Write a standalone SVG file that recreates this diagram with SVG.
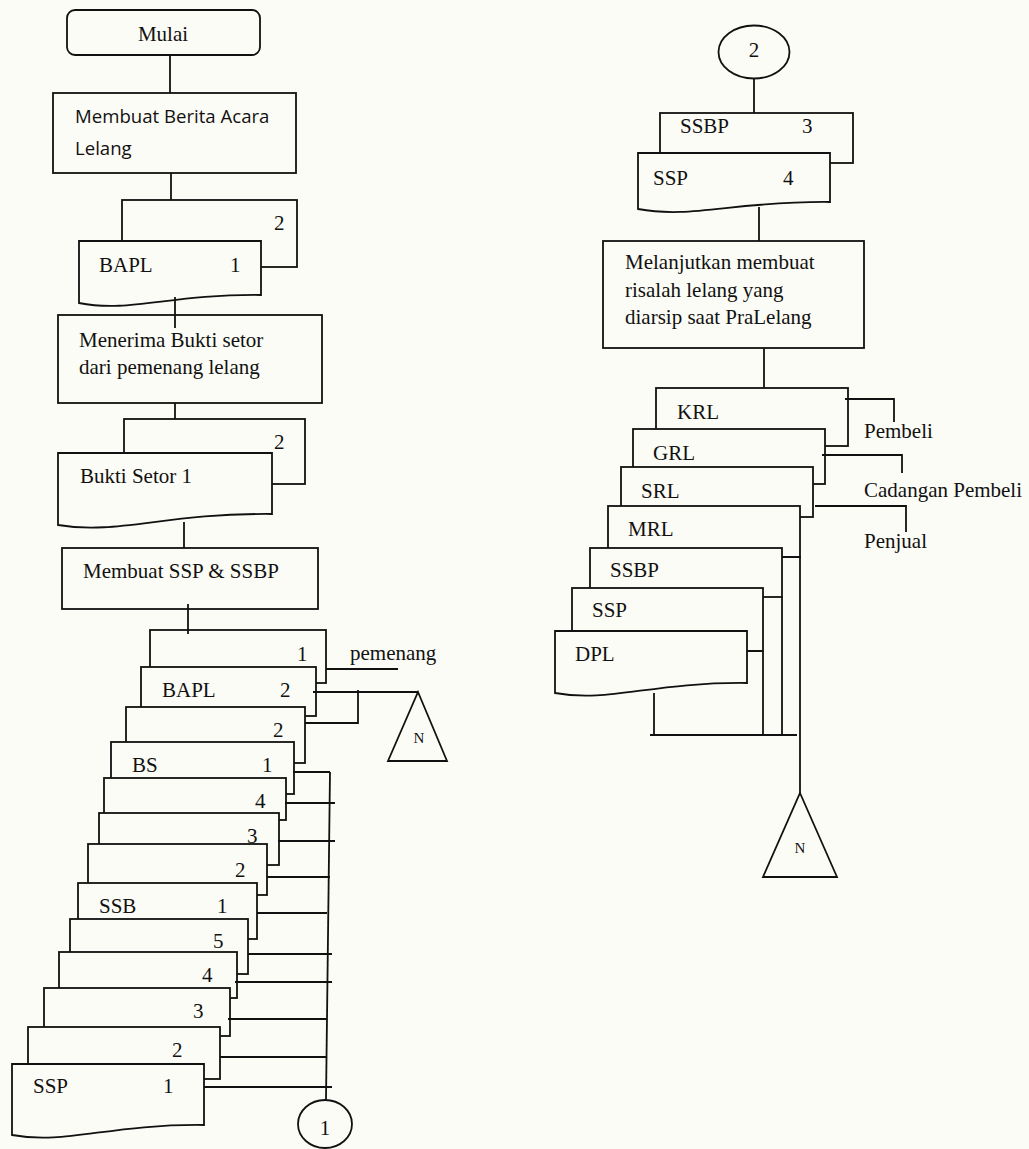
<svg xmlns="http://www.w3.org/2000/svg" width="1029" height="1149" viewBox="0 0 1029 1149">
  <style>
    .bg { fill: #fcfcf6; }
    .shape { fill: #fcfcf6; stroke: #111; stroke-width: 1.8; }
    .ln { fill: none; stroke: #111; stroke-width: 1.8; }
    .t { font-family: "Liberation Serif", "Times New Roman", serif; font-size: 21px; fill: #111; }
    .s { font-family: "Open Sans", "Liberation Sans", sans-serif; font-size: 18.6px; fill: #111; }
    .n { font-family: "Liberation Serif", "Times New Roman", serif; font-size: 15px; fill: #111; text-anchor: middle; }
    .c { text-anchor: middle; }
  </style>
  <rect class="bg" x="0" y="0" width="1029" height="1149"/>

  <!-- left column: start and processing steps -->
  <g id="mulai">
    <rect class="shape" x="67" y="10" width="193" height="45" rx="8"/>
    <text class="t c" x="163" y="41" font-size="20">Mulai</text>
  </g>
  <g id="proses-berita-acara">
    <rect class="shape" x="53" y="93" width="243" height="80"/>
    <text class="s" x="75" y="123">Membuat Berita Acara</text>
    <text class="s" x="75" y="155">Lelang</text>
  </g>
  <g id="dok-bapl">
    <rect class="shape" x="122" y="200" width="175" height="67"/>
    <text class="t" x="274" y="230">2</text>
    <path class="shape" d="M79,241 H261 V295 C170,294 130,313 79,303 Z"/>
    <text class="t" x="99" y="272">BAPL</text>
    <text class="t" x="230" y="272">1</text>
  </g>
  <g id="proses-menerima">
    <rect class="shape" x="58" y="315" width="264" height="88"/>
    <text class="t" x="79" y="347">Menerima Bukti setor</text>
    <text class="t" x="79" y="374">dari pemenang lelang</text>
  </g>
  <g id="dok-bukti-setor">
    <rect class="shape" x="124" y="419" width="181" height="65"/>
    <text class="t" x="274" y="449">2</text>
    <path class="shape" d="M58,453 H272 V514 C165,513 118,535 58,525 Z"/>
    <text class="t" x="80" y="483">Bukti Setor 1</text>
  </g>
  <g id="proses-ssp-ssbp">
    <rect class="shape" x="62" y="548" width="256" height="61"/>
    <text class="t" x="83" y="578">Membuat SSP &amp; SSBP</text>
  </g>

  <!-- left document stack -->
  <g id="stack-kiri">
    <rect class="shape" x="150" y="630" width="176" height="53"/>
    <text class="t" x="297" y="661">1</text>
    <rect class="shape" x="141" y="667" width="175" height="49"/>
    <text class="t" x="162" y="697">BAPL</text>
    <text class="t" x="280" y="697">2</text>
    <rect class="shape" x="126" y="707" width="179" height="56"/>
    <text class="t" x="273" y="737">2</text>
    <rect class="shape" x="111" y="742" width="183" height="52"/>
    <text class="t" x="132" y="772">BS</text>
    <text class="t" x="262" y="772">1</text>
    <rect class="shape" x="104" y="778" width="182" height="42"/>
    <text class="t" x="255" y="808">4</text>
    <rect class="shape" x="99" y="813" width="180" height="52"/>
    <text class="t" x="247" y="843">3</text>
    <rect class="shape" x="88" y="844" width="179" height="51"/>
    <text class="t" x="235" y="877">2</text>
    <rect class="shape" x="78" y="883" width="179" height="56"/>
    <text class="t" x="99" y="913">SSB</text>
    <text class="t" x="217" y="913">1</text>
    <rect class="shape" x="70" y="919" width="178" height="55"/>
    <text class="t" x="213" y="948">5</text>
    <rect class="shape" x="59" y="952" width="178" height="46"/>
    <text class="t" x="202" y="982">4</text>
    <rect class="shape" x="44" y="988" width="186" height="48"/>
    <text class="t" x="193" y="1018">3</text>
    <rect class="shape" x="28" y="1027" width="192" height="52"/>
    <text class="t" x="172" y="1057">2</text>
    <path class="shape" d="M12,1064 H204 V1125 C108,1124 66,1145 12,1135 Z"/>
    <text class="t" x="33" y="1093">SSP</text>
    <text class="t" x="163" y="1093">1</text>
  </g>
  <g id="label-pemenang">
    <text class="t" x="350" y="660">pemenang</text>
  </g>
  <g id="arsip-n-kiri">
    <path class="shape" d="M418,692 L447,761 L388,761 Z"/>
    <text class="n" x="419" y="743">N</text>
  </g>
  <g id="konektor-1">
    <ellipse class="shape" cx="325" cy="1124" rx="27" ry="24"/>
    <text class="t c" x="325" y="1135">1</text>
  </g>

  <!-- right column -->
  <g id="konektor-2">
    <ellipse class="shape" cx="754" cy="52" rx="35.5" ry="26.5"/>
    <text class="t c" x="754" y="57">2</text>
  </g>
  <g id="dok-ssbp-ssp">
    <rect class="shape" x="660" y="113" width="193" height="50"/>
    <text class="t" x="680" y="133">SSBP</text>
    <text class="t" x="802" y="133">3</text>
    <path class="shape" d="M638,153 H830 V202 C734,201 692,219 638,209 Z"/>
    <text class="t" x="653" y="185">SSP</text>
    <text class="t" x="783" y="185">4</text>
  </g>
  <g id="proses-risalah">
    <rect class="shape" x="603" y="241" width="261" height="107"/>
    <text class="t" x="625" y="269">Melanjutkan membuat</text>
    <text class="t" x="625" y="297">risalah lelang yang</text>
    <text class="t" x="625" y="324">diarsip saat PraLelang</text>
  </g>
  <g id="stack-kanan">
    <rect class="shape" x="656" y="388" width="192" height="58"/>
    <text class="t" x="677" y="419">KRL</text>
    <rect class="shape" x="633" y="429" width="192" height="55"/>
    <text class="t" x="653" y="460">GRL</text>
    <rect class="shape" x="621" y="467" width="192" height="50"/>
    <text class="t" x="641" y="498">SRL</text>
    <rect class="shape" x="608" y="506" width="192" height="51"/>
    <text class="t" x="628" y="536">MRL</text>
    <rect class="shape" x="590" y="548" width="192" height="49"/>
    <text class="t" x="610" y="577">SSBP</text>
    <rect class="shape" x="572" y="588" width="191" height="63"/>
    <text class="t" x="592" y="617">SSP</text>
    <path class="shape" d="M555,631 H747 V683 C651,682 609,703 555,693 Z"/>
    <text class="t" x="575" y="661">DPL</text>
  </g>
  <g id="label-penerima">
    <text class="t" x="864" y="438">Pembeli</text>
    <text class="t" x="864" y="497">Cadangan Pembeli</text>
    <text class="t" x="864" y="548">Penjual</text>
  </g>
  <g id="arsip-n-kanan">
    <path class="shape" d="M800,793 L837,877 L763,877 Z"/>
    <text class="n" x="800" y="853">N</text>
  </g>

  <!-- connecting lines -->
  <g id="connectors">
    <line class="ln" x1="170" y1="55" x2="170" y2="93"/>
    <line class="ln" x1="171" y1="173" x2="171" y2="200"/>
    <line class="ln" x1="175" y1="297" x2="175" y2="328"/>
    <line class="ln" x1="175" y1="403" x2="175" y2="419"/>
    <line class="ln" x1="184" y1="522" x2="184" y2="548"/>
    <line class="ln" x1="188" y1="604" x2="188" y2="634"/>

    <line class="ln" x1="326" y1="669" x2="398" y2="669"/>
    <line class="ln" x1="313" y1="692" x2="418" y2="692"/>
    <polyline class="ln" points="305,723 358,723 358,690"/>
    <line class="ln" x1="293" y1="772" x2="330" y2="772"/>
    <line class="ln" x1="330" y1="772" x2="326" y2="1100"/>
    <line class="ln" x1="285" y1="803" x2="335" y2="803"/>
    <line class="ln" x1="278" y1="841" x2="335" y2="841"/>
    <line class="ln" x1="267" y1="877" x2="330" y2="877"/>
    <line class="ln" x1="257" y1="913" x2="327" y2="913"/>
    <line class="ln" x1="248" y1="954" x2="332" y2="954"/>
    <line class="ln" x1="235" y1="982" x2="332" y2="982"/>
    <line class="ln" x1="228" y1="1019" x2="327" y2="1019"/>
    <line class="ln" x1="220" y1="1057" x2="327" y2="1057"/>
    <line class="ln" x1="204" y1="1087" x2="332" y2="1087"/>

    <line class="ln" x1="754" y1="78" x2="754" y2="113"/>
    <line class="ln" x1="759" y1="207" x2="759" y2="241"/>
    <line class="ln" x1="764" y1="348" x2="764" y2="388"/>
    <polyline class="ln" points="845,399 894,399 894,422"/>
    <polyline class="ln" points="822,455 902,455 902,473"/>
    <polyline class="ln" points="815,506 906,506 906,532"/>
    <line class="ln" x1="782" y1="557" x2="801" y2="557"/>
    <line class="ln" x1="800" y1="557" x2="800" y2="793"/>
    <line class="ln" x1="782" y1="597" x2="782" y2="736"/>
    <line class="ln" x1="763" y1="651" x2="763" y2="736"/>
    <line class="ln" x1="747" y1="651" x2="763" y2="651"/>
    <line class="ln" x1="654" y1="693" x2="654" y2="735"/>
    <line class="ln" x1="650" y1="735" x2="797" y2="735"/>
  </g>
</svg>
